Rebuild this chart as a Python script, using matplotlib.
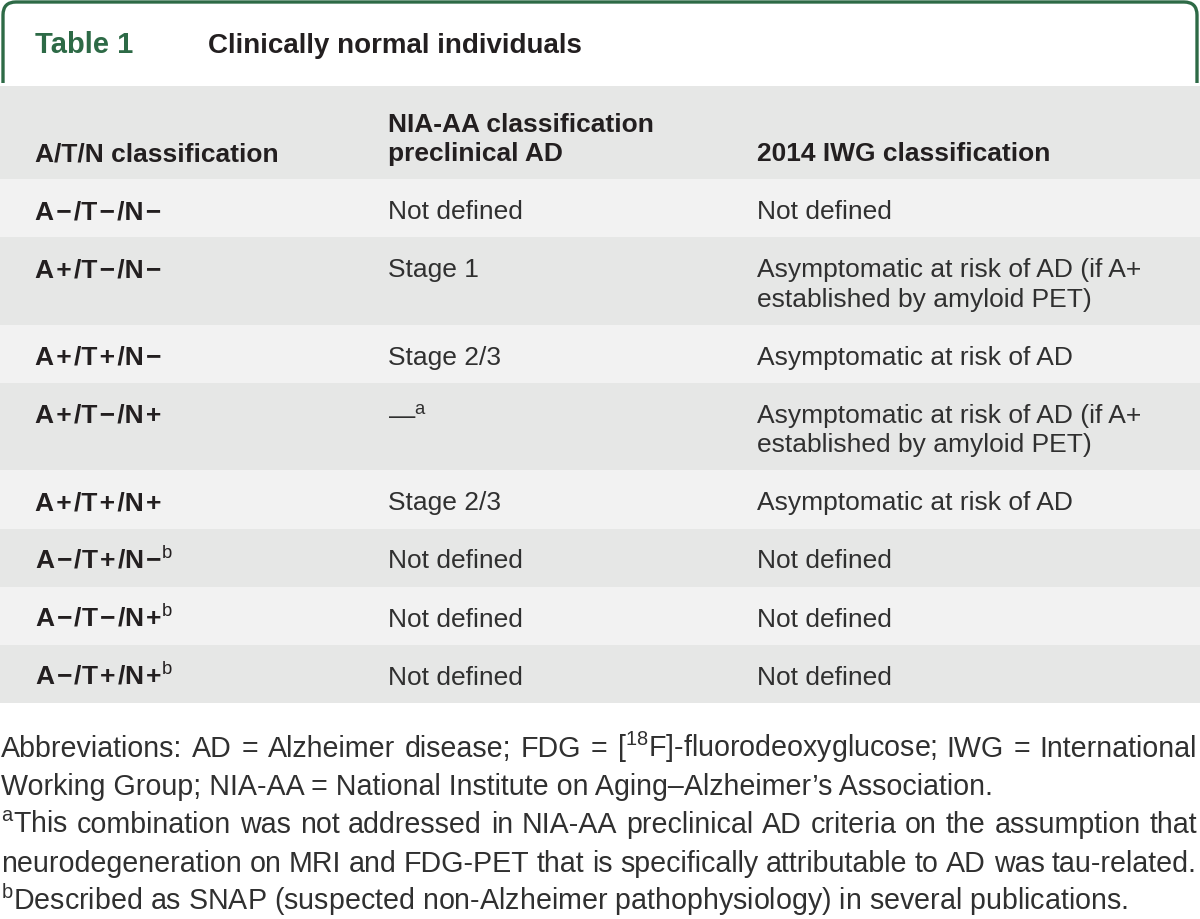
import matplotlib
matplotlib.use("Agg")
import matplotlib.pyplot as plt
from matplotlib.path import Path
from matplotlib.patches import PathPatch, Rectangle

plt.rcParams['font.family'] = ['Liberation Sans', 'DejaVu Sans']
plt.rcParams['mathtext.fontset'] = 'custom'
plt.rcParams['mathtext.rm'] = 'Liberation Sans'
plt.rcParams['mathtext.it'] = 'Liberation Sans:italic'
plt.rcParams['mathtext.bf'] = 'Liberation Sans:bold'

# Contenido de la tabla
table_num = "Table 1"
table_title = "Clinically normal individuals"

headers = ["A/T/N classification",
           "NIA-AA classification\npreclinical AD",
           "2014 IWG classification"]

atn = ["A−/T−/N−", "A+/T−/N−", "A+/T+/N−", "A+/T−/N+", "A+/T+/N+",
       r"A−/T+/N−$^{\mathrm{b}}$", r"A−/T−/N+$^{\mathrm{b}}$", r"A−/T+/N+$^{\mathrm{b}}$"]

nia = ["Not defined", "Stage 1", "Stage 2/3", r"—$^{\mathrm{a}}$", "Stage 2/3",
       "Not defined", "Not defined", "Not defined"]

iwg = ["Not defined",
       "Asymptomatic at risk of AD (if A+\nestablished by amyloid PET)",
       "Asymptomatic at risk of AD",
       "Asymptomatic at risk of AD (if A+\nestablished by amyloid PET)",
       "Asymptomatic at risk of AD",
       "Not defined", "Not defined", "Not defined"]

footnotes = [r"Abbreviations: AD = Alzheimer disease; FDG = [$^{18}$F]-fluorodeoxyglucose; IWG = International",
             "Working Group; NIA-AA = National Institute on Aging–Alzheimer’s Association.",
             r"$^{\mathrm{a}}$This combination was not addressed in NIA-AA preclinical AD criteria on the assumption that",
             "neurodegeneration on MRI and FDG-PET that is specifically attributable to AD was tau-related.",
             r"$^{\mathrm{b}}$Described as SNAP (suspected non-Alzheimer pathophysiology) in several publications."]
justified = [True, False, True, True, False]

# Estilo
green = "#2d6a46"
dark_bg = "#e6e7e6"
light_bg = "#f2f2f2"
txt = "#231f20"
txt_reg = "#303030"

W, H = 1200, 920
col_x = [35, 388, 757]
header_top, header_h = 87, 93
row_h, line_h, base_off = 58.1, 29.5, 39

fig = plt.figure(figsize=(12, 9.2), dpi=100)
ax = fig.add_axes([0, 0, 1, 1])
ax.set_xlim(0, W)
ax.set_ylim(H, 0)
ax.axis("off")

# Marco verde con esquinas redondeadas
r = 13
verts = [(3, 84), (3, 3 + r), (3, 3), (3 + r, 3), (W - 3 - r, 3), (W - 3, 3), (W - 3, 3 + r), (W - 3, 84)]
codes = [Path.MOVETO, Path.LINETO, Path.CURVE3, Path.CURVE3, Path.LINETO, Path.CURVE3, Path.CURVE3, Path.LINETO]
ax.add_patch(PathPatch(Path(verts, codes), fill=False, ec=green, lw=2.4, capstyle="butt", joinstyle="round"))

ax.text(col_x[0], 53, table_num, fontsize=21, fontweight="bold", color=green, va="baseline")
ax.text(208, 53, table_title, fontsize=20, fontweight="bold", color=txt, va="baseline")

# Encabezado
ax.add_patch(Rectangle((0, header_top), W, header_h, color=dark_bg, lw=0))
for x, h in zip(col_x, headers):
    lines = h.split("\n")
    for k, ln in enumerate(lines):
        y = header_top + header_h - 19 - (len(lines) - 1 - k) * line_h
        ax.text(x, y, ln, fontsize=19, fontweight="bold", color=txt, va="baseline")


def spaced(s):
    # un poco de aire alrededor de los signos, como en el original
    s = s.replace("−", "\u200a−\u200a").replace("+", "\u200a+\u200a")
    return s.replace("\u200a$", "$")


# Filas
y0 = header_top + header_h
for i in range(len(atn)):
    cells = [spaced(atn[i]), nia[i], iwg[i]]
    n = max(c.count("\n") + 1 for c in cells)
    h = row_h + (n - 1) * line_h
    ax.add_patch(Rectangle((0, y0), W, h, color=light_bg if i % 2 == 0 else dark_bg, lw=0))
    for j, (x, c) in enumerate(zip(col_x, cells)):
        for k, ln in enumerate(c.split("\n")):
            ax.text(x, y0 + base_off + k * line_h, ln, fontsize=19,
                    fontweight="bold" if j == 0 else "normal",
                    color=txt if j == 0 else txt_reg, va="baseline")
    y0 += h

# Notas al pie: tamaño ajustado al ancho y lineas justificadas
fn_base = [757, 795, 833, 872, 910]
x_left, x_right = 1, 1197
fig.canvas.draw()
rend = fig.canvas.get_renderer()
probe = ax.text(0, 0, footnotes[3], fontsize=18)
fs = 18 * (x_right - x_left) / probe.get_window_extent(rend).width
probe.remove()

for yb, t, just in zip(fn_base, footnotes, justified):
    if not just:
        ax.text(x_left, yb, t, fontsize=fs, color=txt_reg, va="baseline")
        continue
    words = t.split(" ")
    objs = [ax.text(x_left, yb, w, fontsize=fs, color=txt_reg, va="baseline") for w in words]
    widths = [o.get_window_extent(rend).width for o in objs]
    gap = (x_right - x_left - sum(widths)) / (len(words) - 1)
    x = x_left
    for o, w in zip(objs, widths):
        o.set_x(x)
        x += w + gap

fig.savefig("out.png", dpi=100)
